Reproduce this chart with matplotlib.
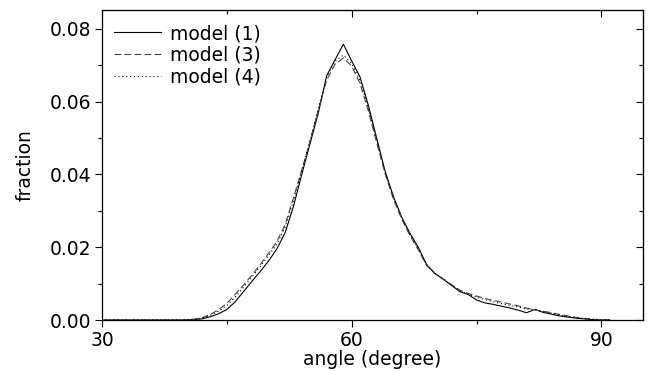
import matplotlib
matplotlib.use("Agg")
import matplotlib.pyplot as plt
import matplotlib.ticker as mtick

plt.rcParams["font.family"] = "DejaVu Sans"
plt.rcParams["font.size"] = 13.5

angle = list(range(30, 92))

zeros = [0.0] * 11  # 30..40 deg
model1 = zeros + [0.0001, 0.0003, 0.0009, 0.0017, 0.0029, 0.0050, 0.0078, 0.0106, 0.0133, 0.0162,
                  0.0195, 0.0240, 0.0312, 0.0400, 0.0485, 0.0570, 0.0672, 0.0715, 0.0758, 0.0712,
                  0.0668, 0.0590, 0.0500, 0.0410, 0.0340, 0.0283, 0.0238, 0.0200, 0.0152, 0.0128,
                  0.0112, 0.0095, 0.0078, 0.0070, 0.0055, 0.0047, 0.0043, 0.0038, 0.0033, 0.0027,
                  0.0020, 0.0029, 0.0021, 0.0016, 0.0011, 0.0008, 0.0005, 0.0003, 0.0001, 0.0,
                  0.0]
model3 = zeros + [0.0002, 0.0006, 0.0015, 0.0028, 0.0046, 0.0070, 0.0096, 0.0123, 0.0152, 0.0183,
                  0.0215, 0.0262, 0.0335, 0.0412, 0.0492, 0.0578, 0.0660, 0.0703, 0.0720, 0.0698,
                  0.0650, 0.0575, 0.0488, 0.0403, 0.0333, 0.0278, 0.0232, 0.0193, 0.0150, 0.0127,
                  0.0113, 0.0097, 0.0082, 0.0073, 0.0066, 0.0059, 0.0054, 0.0049, 0.0044, 0.0039,
                  0.0033, 0.0028, 0.0024, 0.0020, 0.0015, 0.0011, 0.0007, 0.0004, 0.0002, 0.0001,
                  0.0]
model4 = zeros + [0.0002, 0.0005, 0.0013, 0.0024, 0.0040, 0.0063, 0.0090, 0.0118, 0.0146, 0.0177,
                  0.0208, 0.0255, 0.0328, 0.0410, 0.0493, 0.0582, 0.0668, 0.0712, 0.0728, 0.0705,
                  0.0658, 0.0582, 0.0494, 0.0408, 0.0338, 0.0281, 0.0235, 0.0196, 0.0152, 0.0128,
                  0.0113, 0.0096, 0.0080, 0.0071, 0.0063, 0.0056, 0.0050, 0.0045, 0.0040, 0.0036,
                  0.0030, 0.0029, 0.0023, 0.0019, 0.0014, 0.0010, 0.0006, 0.0004, 0.0002, 0.0001,
                  0.0]

fig = plt.figure(figsize=(6.48, 3.71), dpi=100)
ax = fig.add_axes([102/648, 1-320/371, 541/648, 310/371])

ax.plot(angle, model1, color='black', lw=0.8, label='model (1)')
ax.plot(angle, model3, color='#444444', lw=0.8, dashes=(6, 3), label='model (3)')
ax.plot(angle, model4, color='black', lw=0.8, dashes=(1, 2.5), label='model (4)')

ax.set_xlim(30, 95)
ax.set_ylim(0, 0.0852)
ax.xaxis.set_major_locator(mtick.MultipleLocator(30))
ax.xaxis.set_minor_locator(mtick.MultipleLocator(15))
ax.yaxis.set_major_locator(mtick.MultipleLocator(0.02))
ax.yaxis.set_minor_locator(mtick.MultipleLocator(0.01))
ax.yaxis.set_major_formatter(mtick.FormatStrFormatter('%.2f'))
ax.tick_params(which='major', direction='out', length=5, width=0.8, pad=3)
ax.tick_params(which='minor', direction='out', length=3, width=0.8)
for s in ax.spines.values():
    s.set_linewidth(0.9)

# inward mirror ticks on top and right
top = ax.secondary_xaxis('top')
top.xaxis.set_major_locator(mtick.MultipleLocator(30))
top.xaxis.set_minor_locator(mtick.MultipleLocator(15))
top.tick_params(which='major', direction='in', length=5, width=0.8, labeltop=False)
top.tick_params(which='minor', direction='in', length=3, width=0.8)
right = ax.secondary_yaxis('right')
right.yaxis.set_major_locator(mtick.MultipleLocator(0.02))
right.yaxis.set_minor_locator(mtick.MultipleLocator(0.01))
right.tick_params(which='major', direction='in', length=5, width=0.8, labelright=False)
right.tick_params(which='minor', direction='in', length=3, width=0.8)

ax.set_xlabel('angle (degree)', labelpad=0)
ax.set_ylabel('fraction')
ax.yaxis.set_label_coords(-0.125, 0.5)

ax.legend(loc='upper left', bbox_to_anchor=(12/541, 1-14/310), frameon=False,
          borderpad=0, borderaxespad=0, handlelength=2.5, handletextpad=0.5,
          labelspacing=0.15)

plt.savefig('out.png', dpi=100)
